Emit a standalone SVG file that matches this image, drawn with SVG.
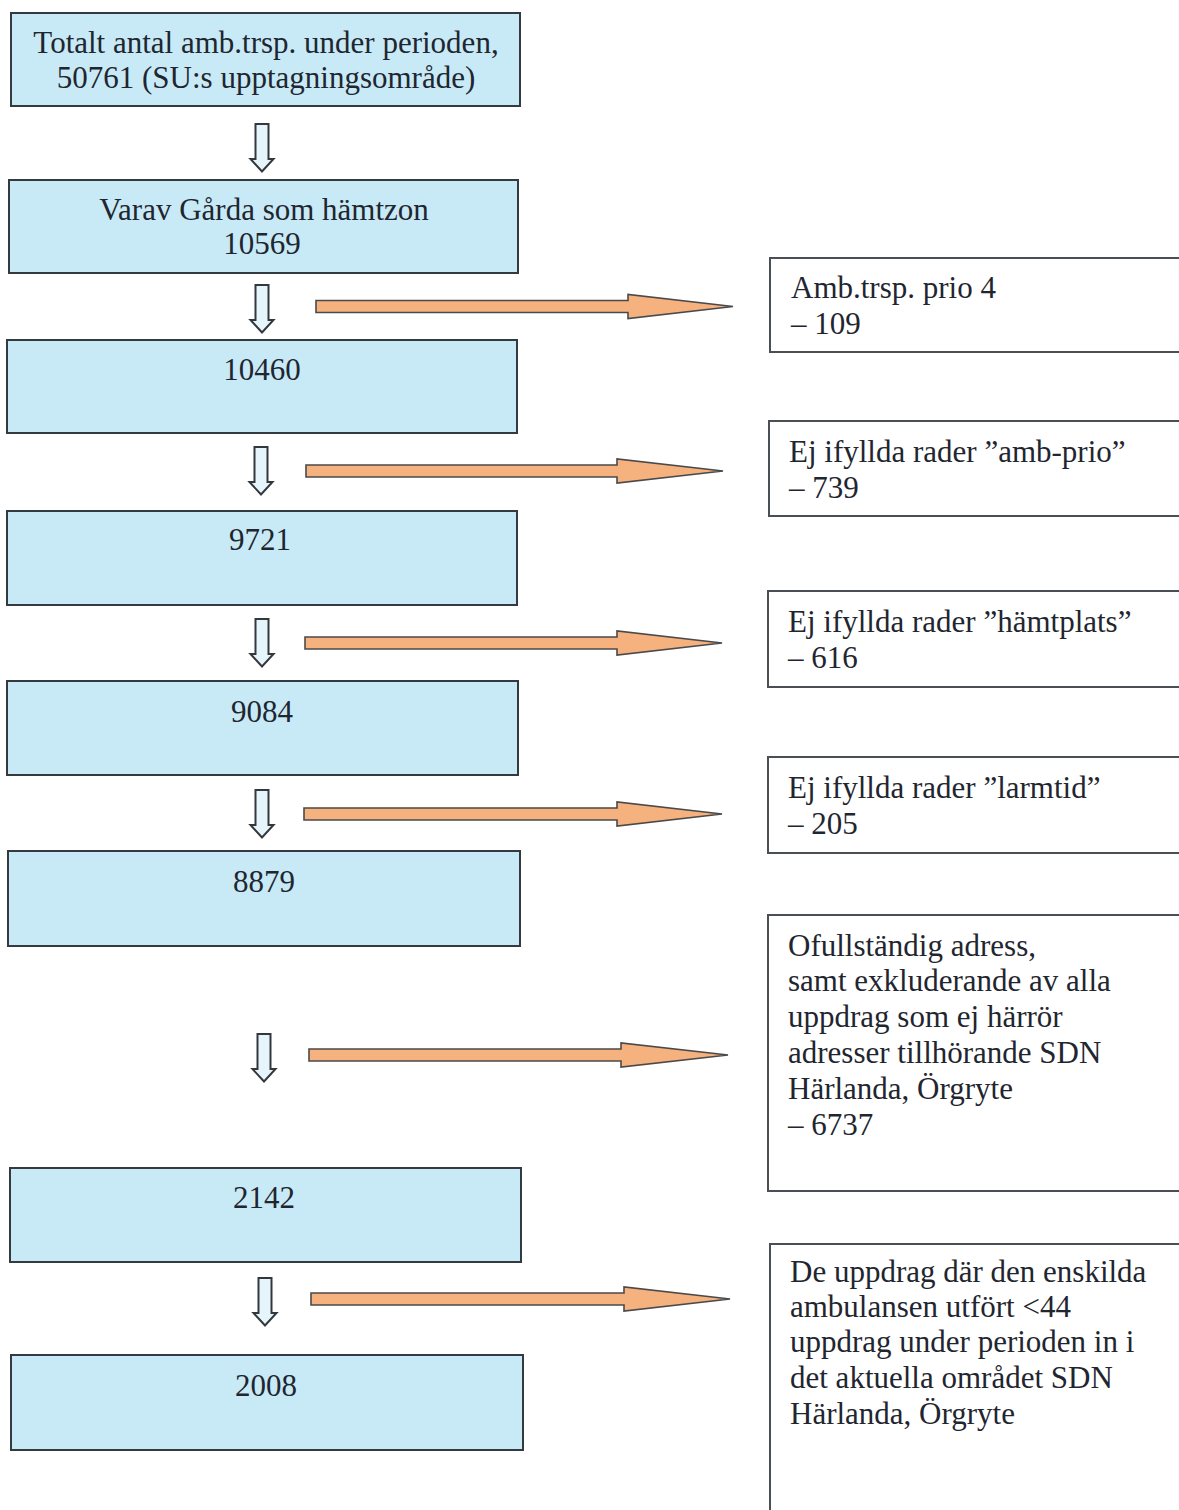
<svg xmlns="http://www.w3.org/2000/svg" width="1179" height="1510" viewBox="0 0 1179 1510">
<defs>
<style>
.box{fill:#c8eaf7;stroke:#333a40;stroke-width:2}
.side{fill:#ffffff;stroke:#4a4f55;stroke-width:2}
.t{font-family:"Liberation Serif","Times New Roman",serif;font-size:31px;fill:#1f2630}
.c{text-anchor:middle}
.down{fill:#e6f5fb;stroke:#33383d;stroke-width:2;stroke-linejoin:miter}
.orange{fill:#f5b27f;stroke:#4a4a4a;stroke-width:1.6;stroke-linejoin:miter}
</style>
<path id="dn" d="M-6.5,0 H6.5 V35 H11.5 L0,47.5 L-11.5,35 H-6.5 Z"/>
</defs>
<rect width="1179" height="1510" fill="#ffffff"/>

<g id="connectors">
<use href="#dn" class="down" x="262" y="124"/>
<use href="#dn" class="down" x="262" y="285"/>
<use href="#dn" class="down" x="261" y="447"/>
<use href="#dn" class="down" x="262" y="619"/>
<use href="#dn" class="down" x="262" y="790"/>
<use href="#dn" class="down" x="264" y="1034"/>
<use href="#dn" class="down" x="265" y="1278"/>
<path class="orange" d="M316,300.5 H628 V294.5 L733,306.5 L628,318.5 V312.5 H316 Z"/>
<path class="orange" d="M306,465 H617 V459 L723,471 L617,483 V477 H306 Z"/>
<path class="orange" d="M305,637 H617 V631 L722,643 L617,655 V649 H305 Z"/>
<path class="orange" d="M304,808 H617 V802 L722,814 L617,826 V820 H304 Z"/>
<path class="orange" d="M309,1049 H621 V1043 L728,1055 L621,1067 V1061 H309 Z"/>
<path class="orange" d="M311,1293 H624 V1287 L730,1299 L624,1311 V1305 H311 Z"/>
</g>

<g id="n1"><rect class="box" x="11" y="13" width="509" height="93"/>
<text class="t c" x="266" y="53">Totalt antal amb.trsp. under perioden,</text>
<text class="t c" x="266" y="88">50761 (SU:s upptagningsområde)</text></g>
<g id="n2"><rect class="box" x="9" y="180" width="509" height="93"/>
<text class="t c" x="264" y="220">Varav Gårda som hämtzon</text>
<text class="t c" x="262" y="254">10569</text></g>
<g id="n3"><rect class="box" x="7" y="340" width="510" height="93"/>
<text class="t c" x="262" y="380">10460</text></g>
<g id="n4"><rect class="box" x="7" y="511" width="510" height="94"/>
<text class="t c" x="260" y="550">9721</text></g>
<g id="n5"><rect class="box" x="7" y="681" width="511" height="94"/>
<text class="t c" x="262" y="722">9084</text></g>
<g id="n6"><rect class="box" x="8" y="851" width="512" height="95"/>
<text class="t c" x="264" y="892">8879</text></g>
<g id="n7"><rect class="box" x="10" y="1168" width="511" height="94"/>
<text class="t c" x="264" y="1208">2142</text></g>
<g id="n8"><rect class="box" x="11" y="1355" width="512" height="95"/>
<text class="t c" x="266" y="1396">2008</text></g>

<g id="r1"><rect class="side" x="770" y="258" width="420" height="94"/>
<text class="t" x="791" y="298">Amb.trsp. prio 4</text>
<text class="t" x="791" y="334">– 109</text></g>
<g id="r2"><rect class="side" x="769" y="421" width="420" height="95"/>
<text class="t" x="789" y="462">Ej ifyllda rader ”amb-prio”</text>
<text class="t" x="789" y="498">– 739</text></g>
<g id="r3"><rect class="side" x="768" y="591" width="420" height="96"/>
<text class="t" x="788" y="632">Ej ifyllda rader ”hämtplats”</text>
<text class="t" x="788" y="668">– 616</text></g>
<g id="r4"><rect class="side" x="768" y="757" width="420" height="96"/>
<text class="t" x="788" y="798">Ej ifyllda rader ”larmtid”</text>
<text class="t" x="788" y="834">– 205</text></g>
<g id="r5"><rect class="side" x="768" y="915" width="420" height="276"/>
<text class="t" x="788" y="956">Ofullständig adress,</text>
<text class="t" x="788" y="991">samt exkluderande av alla</text>
<text class="t" x="788" y="1027">uppdrag som ej härrör</text>
<text class="t" x="788" y="1063">adresser tillhörande SDN</text>
<text class="t" x="788" y="1099">Härlanda, Örgryte</text>
<text class="t" x="788" y="1135">– 6737</text></g>
<g id="r6"><rect class="side" x="770" y="1244" width="420" height="280"/>
<text class="t" x="790" y="1282">De uppdrag där den enskilda</text>
<text class="t" x="790" y="1317">ambulansen utfört &lt;44</text>
<text class="t" x="790" y="1352">uppdrag under perioden in i</text>
<text class="t" x="790" y="1388">det aktuella området SDN</text>
<text class="t" x="790" y="1424">Härlanda, Örgryte</text></g>
</svg>
